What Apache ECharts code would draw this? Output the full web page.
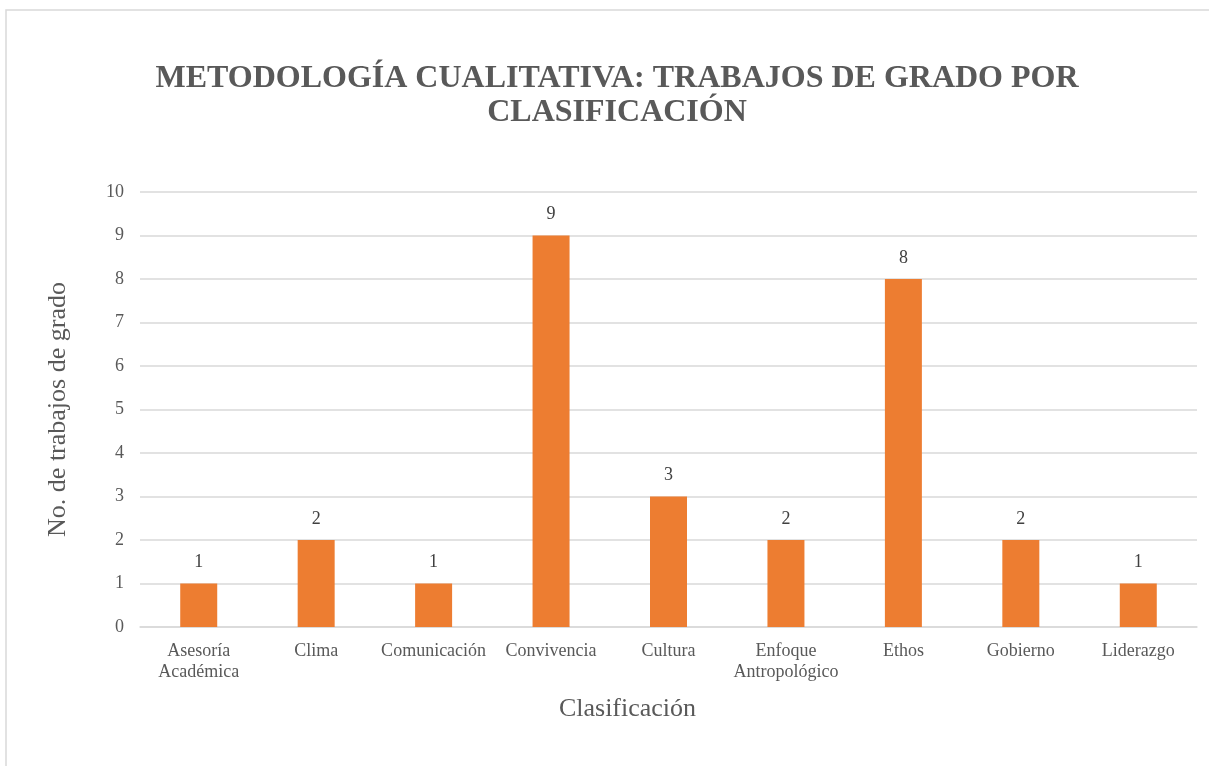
<!DOCTYPE html>
<html><head><meta charset="utf-8">
<script src="https://cdn.jsdelivr.net/npm/echarts@6/dist/echarts.min.js"></script>
<style>html,body{margin:0;padding:0;background:#fff}#c{width:1209px;height:766px}</style>
</head><body><div id="c"></div>
<script>
const categories = ['Asesoría\nAcadémica','Clima','Comunicación','Convivencia','Cultura','Enfoque\nAntropológico','Ethos','Gobierno','Liderazgo'];
const values = [1,2,1,9,3,2,8,2,1];
const titleText = 'METODOLOGÍA CUALITATIVA: TRABAJOS DE GRADO POR\nCLASIFICACIÓN';
const yAxisName = 'No. de trabajos de grado';
const xAxisName = 'Clasificación';
const font = '"Liberation Serif", "Times New Roman", serif';
const chart = echarts.init(document.getElementById('c'));
chart.setOption({
  backgroundColor: '#fff',
  textStyle: {fontFamily: font},
  graphic: [{type:'rect', shape:{x:6,y:10,width:1300,height:900}, style:{fill:'none', stroke:'#d9d9d9', lineWidth:1.5}, silent:true}],
  title: {text: titleText, left: 612, textAlign: 'center', top: 57,
    textStyle: {fontFamily: font, fontWeight: 'bold', fontSize: 32, color: '#595959', lineHeight: 34}},
  grid: {left: 140, right: 12, top: 192, bottom: 139, containLabel: false},
  xAxis: {type: 'category', data: categories,
    name: xAxisName, nameLocation: 'middle', nameGap: 69,
    nameTextStyle: {fontFamily: font, fontSize: 26, color: '#595959', padding: [0, 82, 0, 0]},
    axisLine: {show: true, lineStyle: {color: '#d9d9d9', width: 1.5}},
    axisTick: {show: false},
    axisLabel: {fontFamily: font, fontSize: 18, color: '#595959', margin: 14, lineHeight: 21, interval: 0}},
  yAxis: {type: 'value', min: 0, max: 10, interval: 1,
    name: yAxisName, nameLocation: 'middle', nameGap: 69,
    nameTextStyle: {fontFamily: font, fontSize: 26, color: '#595959'},
    axisLine: {show: false}, axisTick: {show: false},
    axisLabel: {fontFamily: font, fontSize: 18, color: '#595959', margin: 16},
    splitLine: {lineStyle: {color: '#d9d9d9', width: 1.5}}},
  series: [{type: 'bar', data: values, barWidth: '31.5%',
    itemStyle: {color: '#ed7d31'},
    label: {show: true, position: 'top', distance: 12, fontFamily: font, fontSize: 18, color: '#404040'}}]
});
</script></body></html>
